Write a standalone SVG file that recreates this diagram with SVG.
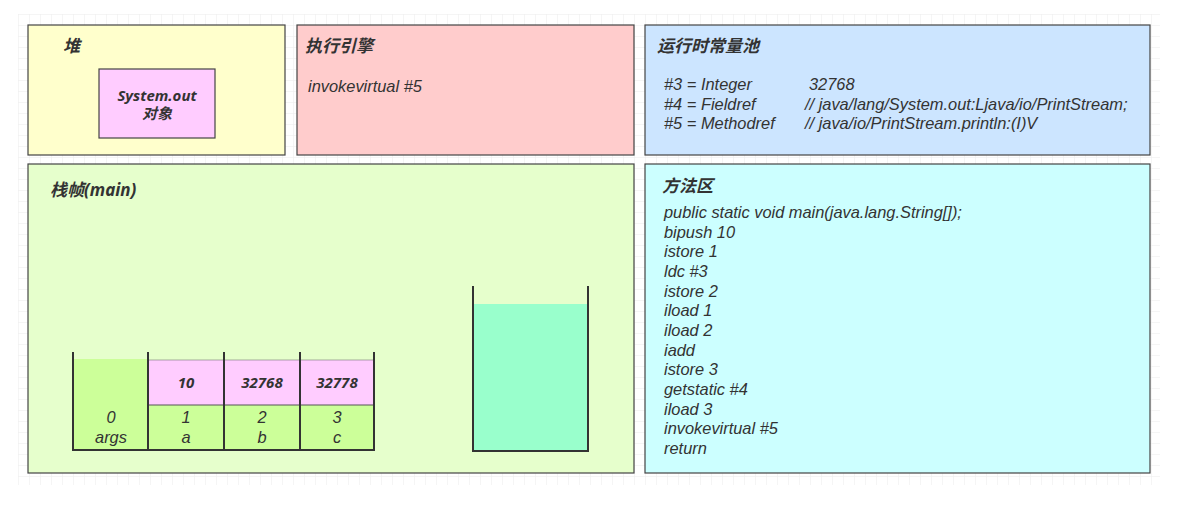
<svg xmlns="http://www.w3.org/2000/svg" width="1195" height="508" viewBox="0 0 1195 508">
<defs>
<pattern id="grid" x="18" y="14" width="11" height="11" patternUnits="userSpaceOnUse">
<path d="M0 0 H11 M0 0 V11" fill="none" stroke="#ececec" stroke-width="1"/>
</pattern>
<style>
.box{stroke:#444;stroke-width:1.2}
.t{font-family:"Liberation Sans","Noto Sans CJK SC",sans-serif;font-style:italic;fill:#333;font-size:16.4px}
.h{font-family:"Noto Sans","Noto Sans CJK SC",sans-serif;font-style:italic;font-weight:bold;fill:#333;font-size:17px}
.b{font-family:"Noto Sans","Noto Sans CJK SC",sans-serif;font-style:italic;font-weight:bold;fill:#333;font-size:15px}
.ln{stroke:#333;stroke-width:2;fill:none}
</style>
</defs>
<rect x="0" y="0" width="1195" height="508" fill="#fff"/>
<rect x="18" y="14" width="1142" height="471" fill="url(#grid)"/>

<g id="heap">
<rect class="box" x="28" y="25" width="257" height="130" fill="#ffffcc"/>
<text class="h" x="63" y="52">堆</text>
<g id="system-out">
<rect class="box" x="99" y="69" width="116" height="69" fill="#ffccff"/>
<text class="b" x="157" y="101" text-anchor="middle">System.out</text>
<text class="b" x="157" y="119" text-anchor="middle">对象</text>
</g>
</g>

<g id="engine">
<rect class="box" x="297" y="25" width="337" height="130" fill="#ffcccc"/>
<text class="h" x="305" y="52">执行引擎</text>
<text class="t" x="308" y="92">invokevirtual #5</text>
</g>

<g id="constpool">
<rect class="box" x="645" y="25" width="505" height="130" fill="#cce5ff"/>
<text class="h" x="657" y="52">运行时常量池</text>
<text class="t" x="664" y="90">#3 = Integer</text>
<text class="t" x="809" y="90">32768</text>
<text class="t" x="664" y="110">#4 = Fieldref</text>
<text class="t" x="805" y="110">// java/lang/System.out:Ljava/io/PrintStream;</text>
<text class="t" x="664" y="129">#5 = Methodref</text>
<text class="t" x="805" y="129">// java/io/PrintStream.println:(I)V</text>
</g>

<g id="frame">
<rect class="box" x="28" y="164" width="606" height="309" fill="#e6ffcc"/>
<text class="h" x="50" y="196">栈帧(main)</text>
<g id="locals">
<rect x="73" y="359" width="75" height="91" fill="#ccff99"/>
<rect x="148" y="360" width="226" height="45" fill="#ffccff"/>
<rect x="148" y="405" width="226" height="45" fill="#ccff99"/>
<line x1="148" y1="405" x2="374" y2="405" stroke="#555" stroke-width="1"/>
<line x1="148" y1="360" x2="374" y2="360" stroke="#777" stroke-width="0.6"/>
<path class="ln" d="M73 352 V450 H374 V352 M148 352 V450 M224 352 V450 M300 352 V450"/>
<text class="b" x="186" y="388" text-anchor="middle">10</text>
<text class="b" x="262" y="388" text-anchor="middle">32768</text>
<text class="b" x="337" y="388" text-anchor="middle">32778</text>
<text class="t" x="111" y="423" text-anchor="middle">0</text>
<text class="t" x="111" y="443" text-anchor="middle">args</text>
<text class="t" x="186" y="423" text-anchor="middle">1</text>
<text class="t" x="186" y="443" text-anchor="middle">a</text>
<text class="t" x="262" y="423" text-anchor="middle">2</text>
<text class="t" x="262" y="443" text-anchor="middle">b</text>
<text class="t" x="337" y="423" text-anchor="middle">3</text>
<text class="t" x="337" y="443" text-anchor="middle">c</text>
</g>
<g id="operand-stack">
<rect x="473" y="304" width="115" height="146" fill="#99ffcc"/>
<path class="ln" d="M473 286 V451 H588 V286"/>
</g>
</g>

<g id="method-area">
<rect class="box" x="645" y="164" width="505" height="309" fill="#ccffff"/>
<text class="h" x="662" y="192">方法区</text>
<text class="t" x="664" y="218">public static void main(java.lang.String[]);</text>
<text class="t" x="664" y="238">bipush 10</text>
<text class="t" x="664" y="257">istore 1</text>
<text class="t" x="664" y="277">ldc #3</text>
<text class="t" x="664" y="297">istore 2</text>
<text class="t" x="664" y="316">iload 1</text>
<text class="t" x="664" y="336">iload 2</text>
<text class="t" x="664" y="356">iadd</text>
<text class="t" x="664" y="375">istore 3</text>
<text class="t" x="664" y="395">getstatic #4</text>
<text class="t" x="664" y="415">iload 3</text>
<text class="t" x="664" y="434">invokevirtual #5</text>
<text class="t" x="664" y="454">return</text>
</g>
<g id="connectors"/>
</svg>
